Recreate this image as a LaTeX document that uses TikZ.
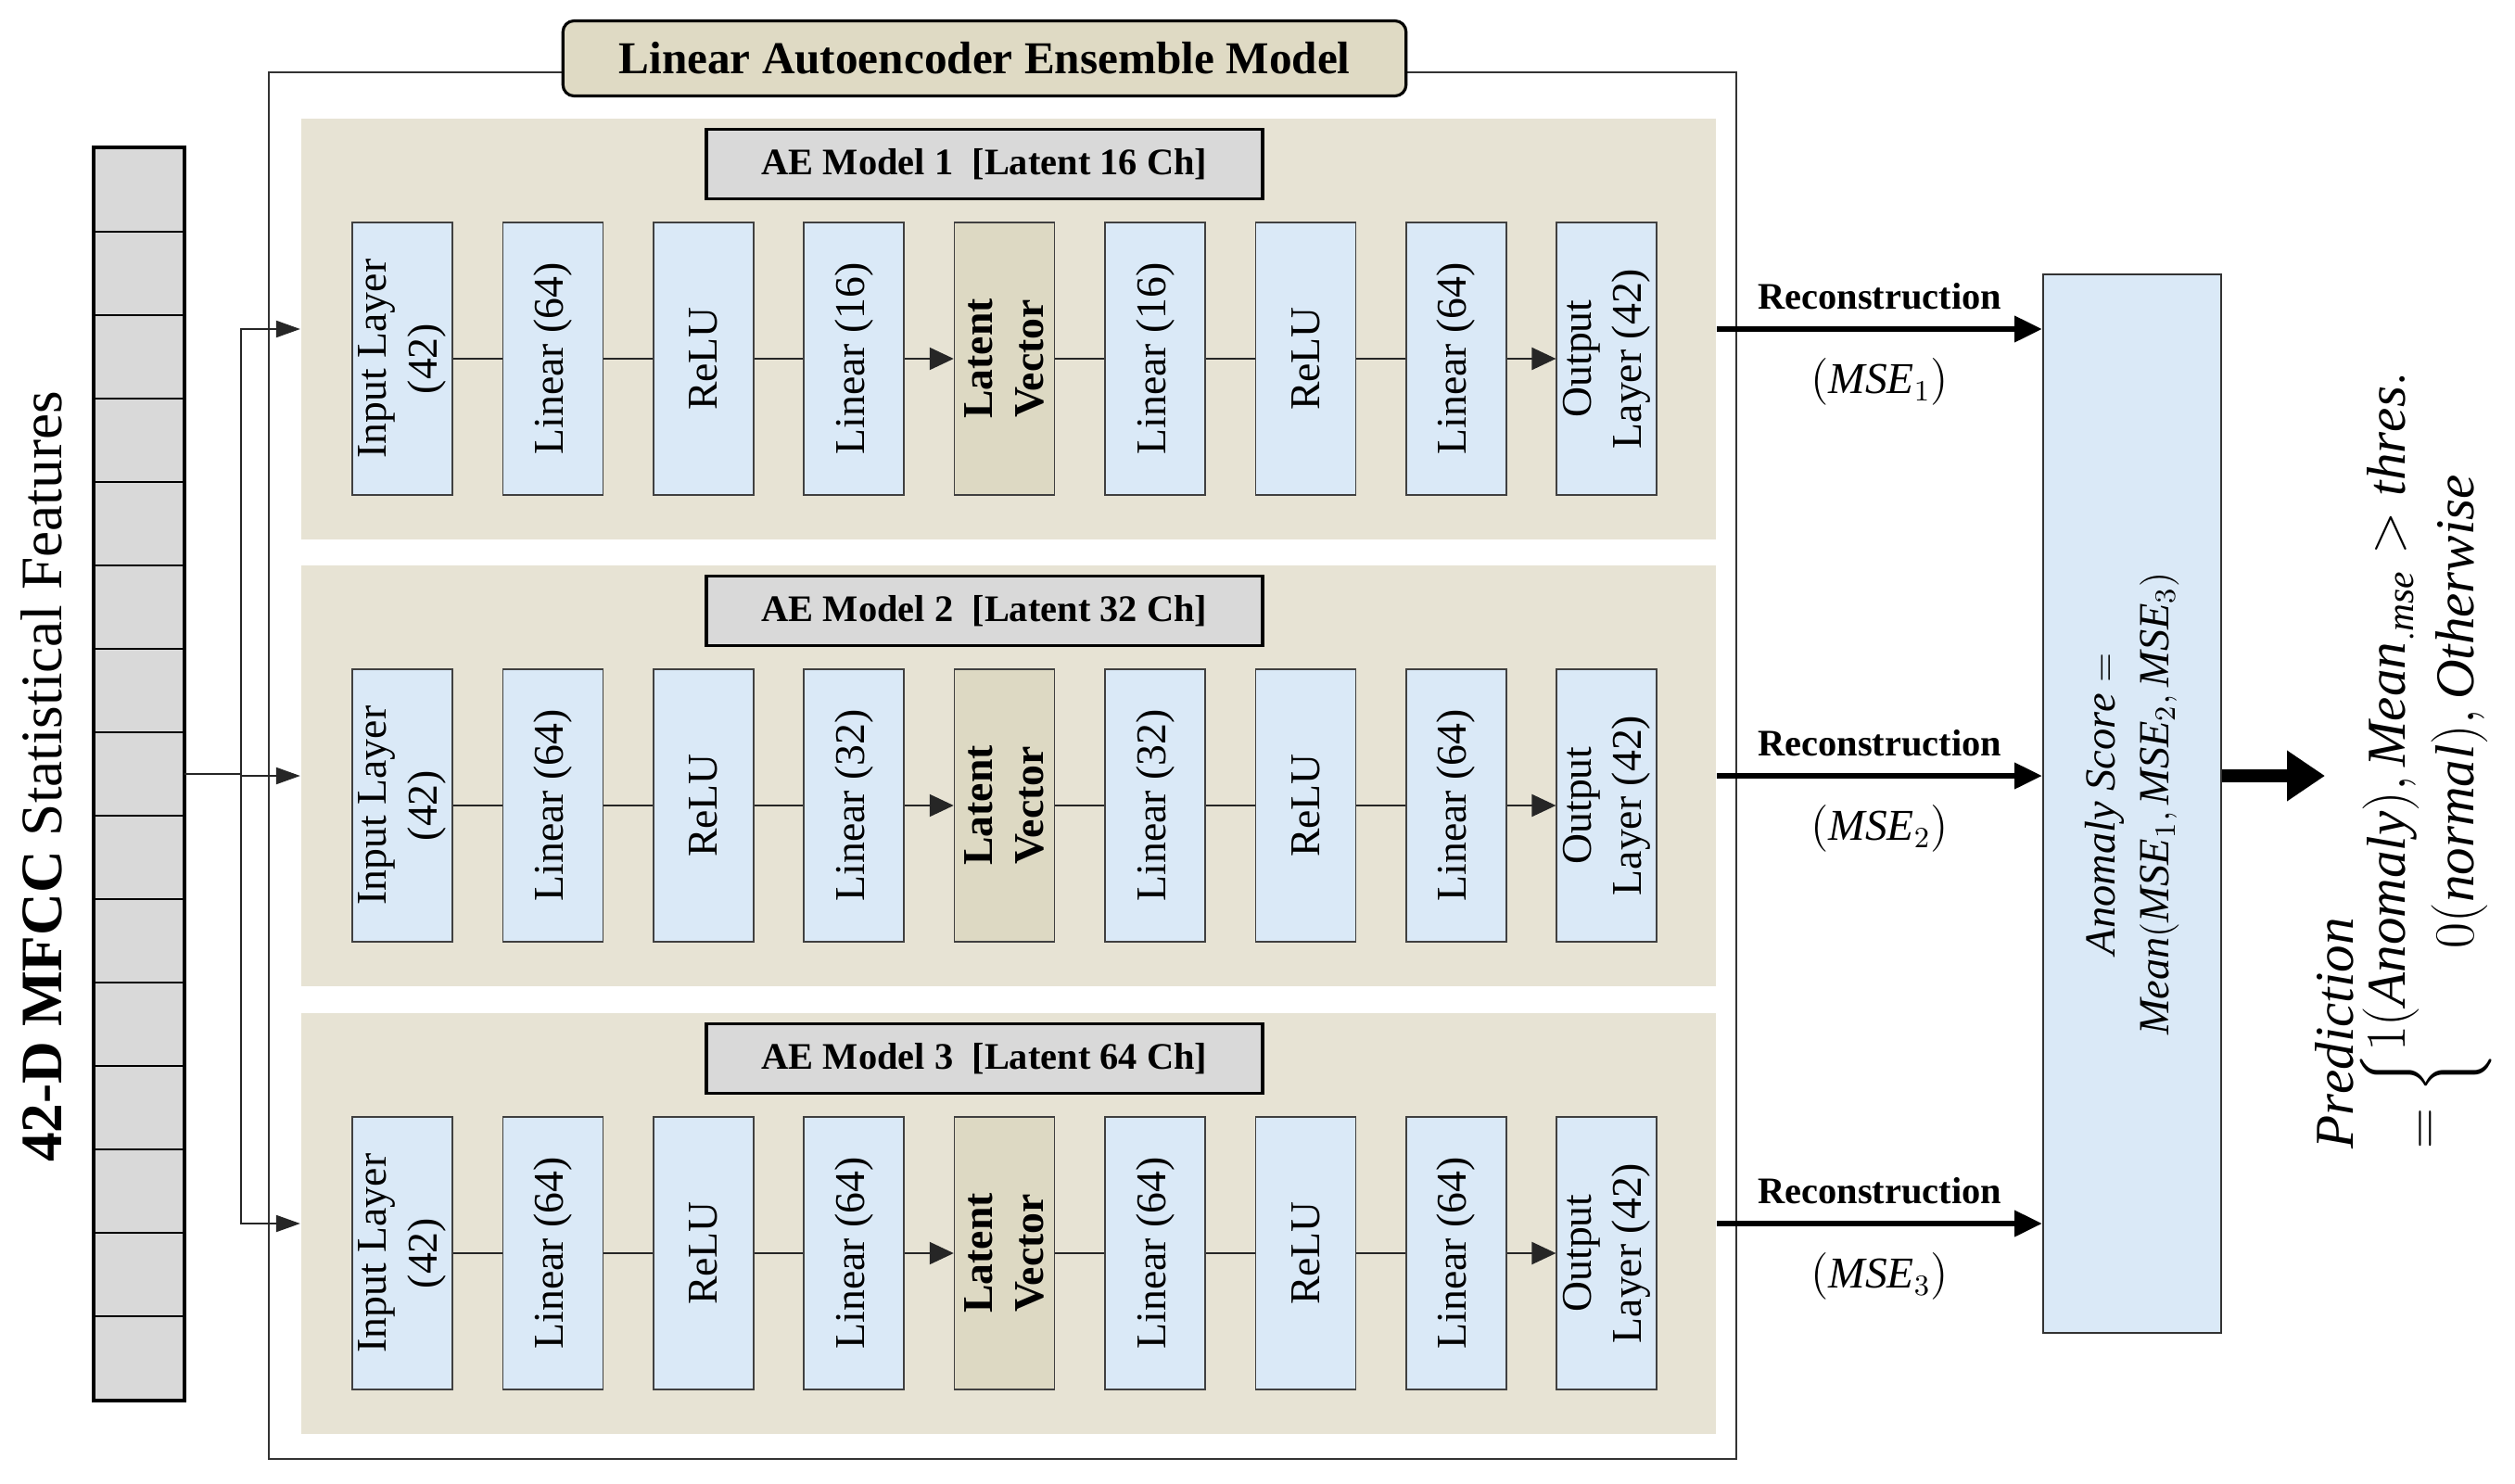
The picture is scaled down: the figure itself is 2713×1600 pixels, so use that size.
\documentclass[tikz,border=0pt]{standalone}
\usepackage{amsmath,amssymb}
\usepackage{fontspec}
\setmainfont{Liberation Serif}
\usepackage{tikz}
\usetikzlibrary{positioning,arrows.meta}
\usepackage{xcolor}
\definecolor{panelbg}{HTML}{E7E3D4}
\definecolor{layerbg}{HTML}{DAE9F7}
\definecolor{latentbg}{HTML}{DDD9C3}
\definecolor{titlebg}{HTML}{DFDAC4}
\definecolor{cellbg}{HTML}{D9D9D9}

\tikzset{
  frame/.style={draw=black!80,line width=0.5pt},
  titlebox/.style={draw,line width=0.9pt,fill=titlebg,rounded corners=0.12cm,minimum width=9.09cm,minimum height=0.81cm,font=\bfseries\fontsize{14}{16}\selectfont},
  cell/.style={draw,line width=0.4pt,fill=cellbg,minimum width=0.96cm,minimum height=0.9cm,inner sep=0},
  featlabel/.style={rotate=90,font=\fontsize{18}{20}\selectfont},
  panel/.style={fill=panelbg,minimum width=15.26cm,minimum height=4.54cm,inner sep=0},
  modelbox/.style={draw,line width=1pt,fill=cellbg,minimum width=6cm,minimum height=0.75cm,font=\bfseries\fontsize{11.5}{13}\selectfont},
  layerbox/.style={draw=black!75,line width=0.45pt,fill=layerbg,rotate=90,minimum width=2.94cm,minimum height=1.08cm,inner sep=1pt,align=center,font=\fontsize{13}{15.5}\selectfont},
  latentbox/.style={layerbox,fill=latentbg,font=\bfseries\fontsize{13}{15.5}\selectfont},
  link/.style={draw=black!85,line width=0.6pt},
  recarrow/.style={line width=1.9pt,-{Triangle[length=3mm,width=2.7mm]}},
  bigarrow/.style={line width=4pt,-{Triangle[length=4.1mm,width=5.2mm]}},
  scorebox/.style={draw=black!80,line width=0.5pt,fill=layerbg,rotate=90,minimum width=11.42cm,minimum height=1.92cm,align=center,font=\fontsize{13.2}{16.5}\selectfont},
  predtext/.style={rotate=90,align=left,inner sep=0,font=\fontsize{16.8}{21}\selectfont}
}

\begin{document}
\begin{tikzpicture}[x=0.01cm,y=-0.01cm]
\useasboundingbox (0,0) rectangle (2713,1600);

% ensemble frame
\draw[frame] (290,78) rectangle (1873,1574);
\node[titlebox] (title) at (1062,63) {Linear Autoencoder Ensemble Model};

% 42-D input vector
\foreach \k in {0,...,14}
  \node[cell] (c\k) at (150,205+90*\k) {};
\draw[line width=1.1pt] (c0.north west) rectangle (c14.south east);
\node[featlabel] (feat) at (45,838) {\textbf{42-D MFCC} Statistical Features};

% anomaly score
\node[scorebox] (score) at (2300,867) {$\mathit{Anomaly\ Score} =$\\$\mathit{Mean}(\mathit{MSE}_1,\mathit{MSE}_2,\mathit{MSE}_3)$};

% three autoencoders
\foreach \i/\lat/\y in {1/16/355,2/32/837,3/64/1320}{
  \node[panel] (p\i) at (1088,\y) {};
  \node[modelbox] (m\i) at (1062,\y-178) {AE Model \i~~[Latent \lat{} Ch]};
  \foreach \j/\st/\txt in {1/layerbox/{Input Layer\\(42)},2/layerbox/{Linear (64)},3/layerbox/ReLU,
      4/layerbox/{Linear (\lat)},5/latentbox/{Latent\\Vector},6/layerbox/{Linear (\lat)},
      7/layerbox/ReLU,8/layerbox/{Linear (64)},9/layerbox/{Output\\Layer (42)}}
    \node[\st] (l\i-\j) at (434+162.4*\j-162.4,\y+32) {\txt};
  \foreach \j [evaluate=\j as \n using int(\j+1)] in {1,2,3,5,6,7}
    \draw[link] (l\i-\j) -- (l\i-\n);
  \draw[link,-{Triangle[length=2.6mm,width=2.4mm]}] (l\i-4) -- (l\i-5);
  \draw[link,-{Triangle[length=2.6mm,width=2.4mm]}] (l\i-8) -- (l\i-9);
  % reconstruction error
  \draw[recarrow] (p\i.east) -- (p\i.east -| score.north)
    node[midway,above=5pt,inner sep=0,font=\bfseries\fontsize{11.5}{13}\selectfont] (r\i) {Reconstruction}
    node[midway,below=8pt,inner sep=0,font=\fontsize{13.5}{15}\selectfont] (e\i) {$(\mathit{MSE}_{\i})$};
}

% input fan-out
\coordinate (split) at (260,835);
\draw[link] (c7.east) -- (split);
\foreach \i in {1,2,3}
  \draw[link,-{Triangle[length=2.6mm,width=1.8mm]}] (split) |- (p\i.west);

% prediction
\node[predtext] (pred) at (2594,818) {$\mathit{Prediction}$\\$=\left\{\begin{array}{@{}c@{}}1(\mathit{Anomaly}),\mathit{Mean}_{.\mathit{mse}}>\mathit{thres.}\\0(\mathit{normal}),\mathit{Otherwise}\end{array}\right.$};
\coordinate (out) at (2508,837);
\draw[bigarrow] (score.south |- out) -- (out);
\end{tikzpicture}
\end{document}
